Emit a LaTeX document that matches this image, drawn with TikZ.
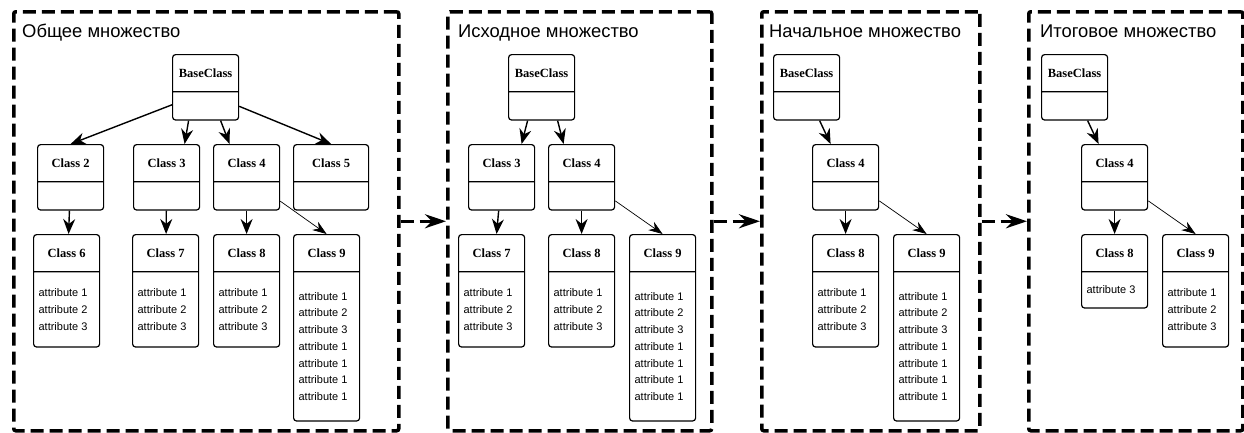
\documentclass[tikz,border=0pt]{standalone}
\usepackage{fontspec}
\setmainfont{Liberation Sans}
\newfontfamily\namefont{Liberation Serif}
\usepackage{tikz}
\usetikzlibrary{shapes.multipart,arrows.meta}

\newcommand{\cname}[2][66pt]{\parbox[c][36pt][c]{#1}{\centering\namefont\bfseries\fontsize{12.5}{14}\selectfont #2}}
\newcommand{\cattr}[2]{\parbox[c][#1][c]{56pt}{\fontsize{11}{16.7}\selectfont #2}}

\begin{document}
\begin{tikzpicture}[x=1pt,y=-1pt,
    cls/.style={draw,line width=1.2pt,rounded corners=3pt,rectangle split,rectangle split parts=2,inner sep=0pt,anchor=north west},
    frm/.style={draw,line width=3.5pt,dash pattern=on 13pt off 6pt,rounded corners=2pt,inner sep=0pt,anchor=north west},
    inh/.style={-{Stealth[length=15pt,width=12pt]},line width=1.4pt},
    dep/.style={-{Stealth[length=14pt,width=10pt]},line width=0.7pt},
    flow/.style={-{Stealth[length=21pt,width=14pt]},line width=3.5pt,dash pattern=on 13pt off 6pt},
    ttl/.style={anchor=base west,inner sep=0pt,font=\fontsize{18.4}{22}\selectfont}]
    \useasboundingbox (0,0) rectangle (1244,432);

    \node[frm,minimum width=385pt,minimum height=419pt] (f1) at (12,10) {};
    \node[frm,minimum width=264pt,minimum height=419pt] (f2) at (446,10) {};
    \node[frm,minimum width=218pt,minimum height=419pt] (f3) at (760,10) {};
    \node[frm,minimum width=214pt,minimum height=419pt] (f4) at (1027,10) {};
    \node[ttl] (t1) at (22,37) {Общее множество};
    \node[ttl] (t2) at (458,37) {Исходное множество};
    \node[ttl] (t3) at (769,37) {Начальное множество};
    \node[ttl] (t4) at (1040,37) {Итоговое множество};
    \draw[flow] (f1) -- (f2);
    \draw[flow] (f2) -- (f3);
    \draw[flow] (f3) -- (f4);

    \node[cls] (a0) at (172,54) {\cname{BaseClass}\nodepart{second}\cattr{27pt}{}};
    \node[cls] (a2) at (37,144) {\cname{Class 2}\nodepart{second}\cattr{27pt}{}};
    \node[cls] (a3) at (133,144) {\cname{Class 3}\nodepart{second}\cattr{27pt}{}};
    \node[cls] (a4) at (213,144) {\cname{Class 4}\nodepart{second}\cattr{27pt}{}};
    \node[cls] (a5) at (293,144) {\cname[75pt]{Class 5}\nodepart{second}\cattr{27pt}{}};
    \node[cls] (a6) at (33,234) {\cname{Class 6}\nodepart{second}\cattr{74pt}{attribute 1\\attribute 2\\attribute 3}};
    \node[cls] (a7) at (132,234) {\cname{Class 7}\nodepart{second}\cattr{74pt}{attribute 1\\attribute 2\\attribute 3}};
    \node[cls] (a8) at (213,234) {\cname{Class 8}\nodepart{second}\cattr{74pt}{attribute 1\\attribute 2\\attribute 3}};
    \node[cls] (a9) at (293,234) {\cname{Class 9}\nodepart{second}\cattr{148pt}{attribute 1\\attribute 2\\attribute 3\\attribute 1\\attribute 1\\attribute 1\\attribute 1}};
    \draw[inh] ([yshift=-17.5pt]a0.west) -- (a2.north);
    \draw[inh] ([xshift=-17pt]a0.south) -- ([xshift=18pt]a3.north);
    \draw[inh] ([xshift=15pt]a0.south) -- ([xshift=-17pt]a4.north);
    \draw[inh] ([yshift=-19pt]a0.east) -- (a5.north);
    \draw[inh] (a2) -- (a6);
    \draw[inh] (a3) -- (a7);
    \draw[inh] (a4) -- (a8);
    \draw[dep] (a4) -- (a9.north);

    \node[cls] (b0) at (508,54) {\cname{BaseClass}\nodepart{second}\cattr{27pt}{}};
    \node[cls] (b3) at (468,144) {\cname{Class 3}\nodepart{second}\cattr{27pt}{}};
    \node[cls] (b4) at (548,144) {\cname{Class 4}\nodepart{second}\cattr{27pt}{}};
    \node[cls] (b7) at (458,234) {\cname{Class 7}\nodepart{second}\cattr{74pt}{attribute 1\\attribute 2\\attribute 3}};
    \node[cls] (b8) at (548,234) {\cname{Class 8}\nodepart{second}\cattr{74pt}{attribute 1\\attribute 2\\attribute 3}};
    \node[cls] (b9) at (629,234) {\cname{Class 9}\nodepart{second}\cattr{148pt}{attribute 1\\attribute 2\\attribute 3\\attribute 1\\attribute 1\\attribute 1\\attribute 1}};
    \draw[inh] ([xshift=-14pt]b0.south) -- ([xshift=20pt]b3.north);
    \draw[inh] ([xshift=16pt]b0.south) -- ([xshift=-18pt]b4.north);
    \draw[inh] (b3) -- (b7);
    \draw[inh] (b4) -- (b8);
    \draw[dep] (b4) -- (b9.north);

    \node[cls] (c0) at (773,54) {\cname{BaseClass}\nodepart{second}\cattr{27pt}{}};
    \node[cls] (c4) at (812,144) {\cname{Class 4}\nodepart{second}\cattr{27pt}{}};
    \node[cls] (c8) at (812,234) {\cname{Class 8}\nodepart{second}\cattr{74pt}{attribute 1\\attribute 2\\attribute 3}};
    \node[cls] (c9) at (893,234) {\cname{Class 9}\nodepart{second}\cattr{148pt}{attribute 1\\attribute 2\\attribute 3\\attribute 1\\attribute 1\\attribute 1\\attribute 1}};
    \draw[inh] ([xshift=13pt]c0.south) -- ([xshift=-15pt]c4.north);
    \draw[inh] (c4) -- (c8);
    \draw[dep] (c4) -- (c9.north);

    \node[cls] (d0) at (1041,54) {\cname{BaseClass}\nodepart{second}\cattr{27pt}{}};
    \node[cls] (d4) at (1081,144) {\cname{Class 4}\nodepart{second}\cattr{27pt}{}};
    \node[cls] (d8) at (1081,234) {\cname{Class 8}\nodepart{second}\cattr{35pt}{attribute 3}};
    \node[cls] (d9) at (1162,234) {\cname{Class 9}\nodepart{second}\cattr{74pt}{attribute 1\\attribute 2\\attribute 3}};
    \draw[inh] ([xshift=13pt]d0.south) -- ([xshift=-16pt]d4.north);
    \draw[inh] (d4) -- (d8);
    \draw[dep] (d4) -- (d9.north);
\end{tikzpicture}
\end{document}
